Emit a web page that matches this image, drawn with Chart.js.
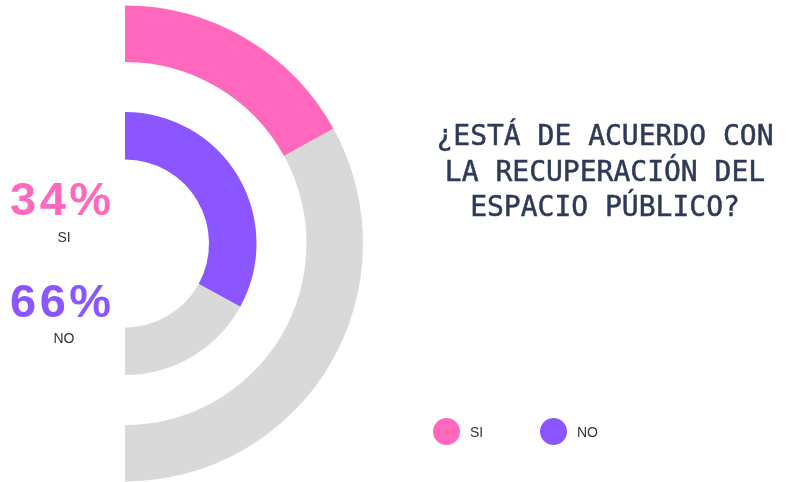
<!DOCTYPE html>
<html>
<head>
<meta charset="utf-8">
<script src="https://cdn.jsdelivr.net/npm/chart.js@4/dist/chart.umd.min.js"></script>
<style>
  html, body { margin: 0; padding: 0; background: #fff; }
  #wrap { position: relative; width: 789px; height: 482px; overflow: hidden; }
  #chart { position: absolute; left: 0; top: 0; }
  .pct { position: absolute; left: 10px; width: 120px; text-align: left;
         font-family: "Liberation Sans", Arial, sans-serif; font-weight: bold;
         font-size: 47px; letter-spacing: 3.5px; line-height: 1; }
  .lbl { position: absolute; left: 12px; width: 104px; text-align: center;
         font-family: "Liberation Sans", Arial, sans-serif; font-size: 14px;
         color: #333; line-height: 1; }
  #title { position: absolute; left: 405px; width: 400px; top: 118px; text-align: center;
           font-family: "DejaVu Sans Mono", "Liberation Mono", monospace; font-size: 28px;
           line-height: 35.5px; color: #2e3a57; -webkit-text-stroke: 0.5px #2e3a57; }
  .leg { position: absolute; top: 418px; height: 27px; display: flex; align-items: center;
         font-family: "Liberation Sans", Arial, sans-serif; font-size: 14px; color: #333; }
  .leg i { display: inline-block; width: 27px; height: 27px; border-radius: 50%; margin-right: 10px; }
</style>
</head>
<body>
<div id="wrap">
  <canvas id="chart" width="789" height="482"></canvas>
  <div class="pct" id="pSi" style="top:175px"></div>
  <div class="lbl" id="lSi" style="top:230px"></div>
  <div class="pct" id="pNo" style="top:277px"></div>
  <div class="lbl" id="lNo" style="top:331px"></div>
  <div id="title">¿ESTÁ DE ACUERDO CON<br>LA RECUPERACIÓN DEL<br>ESPACIO PÚBLICO?</div>
  <div class="leg" style="left:433px"><i id="cSi"></i><span id="tSi"></span></div>
  <div class="leg" style="left:540px"><i id="cNo"></i><span id="tNo"></span></div>
</div>
<script>
// respuestas
const categories = ["SI", "NO"];
// anillo exterior: SI contra el resto
const siValues = [34, 66];
// anillo interior: NO contra el resto
const noValues = [66, 34];

const pink = "#ff68bd";
const purple = "#8b55ff";
const gray = "#d9d9d9";

document.getElementById("pSi").textContent = siValues[0] + "%";
document.getElementById("pSi").style.color = pink;
document.getElementById("lSi").textContent = categories[0];
document.getElementById("pNo").textContent = noValues[0] + "%";
document.getElementById("pNo").style.color = purple;
document.getElementById("lNo").textContent = categories[1];
document.getElementById("cSi").style.background = pink;
document.getElementById("tSi").textContent = categories[0];
document.getElementById("cNo").style.background = purple;
document.getElementById("tNo").textContent = categories[1];

const ctx = document.getElementById("chart").getContext("2d");

new Chart(ctx, {
  type: "doughnut",
  data: {
    labels: [categories[0], categories[1]],
    datasets: [
      {
        label: categories[0],
        data: siValues,
        backgroundColor: [pink, gray],
        borderWidth: 0,
        weight: 56.5
      },
      {
        // hueco entre anillos
        label: "",
        data: [100],
        backgroundColor: "rgba(0,0,0,0)",
        borderWidth: 0,
        weight: 50
      },
      {
        label: categories[1],
        data: noValues,
        backgroundColor: [purple, gray],
        borderWidth: 0,
        weight: 47.5
      }
    ]
  },
  options: {
    responsive: false,
    animation: false,
    rotation: 0,
    circumference: 180,
    cutout: "35.3%",
    layout: {
      padding: { left: 125, top: 5, right: 426, bottom: 0 }
    },
    plugins: {
      legend: { display: false },
      tooltip: { enabled: false }
    }
  }
});
</script>
</body>
</html>
